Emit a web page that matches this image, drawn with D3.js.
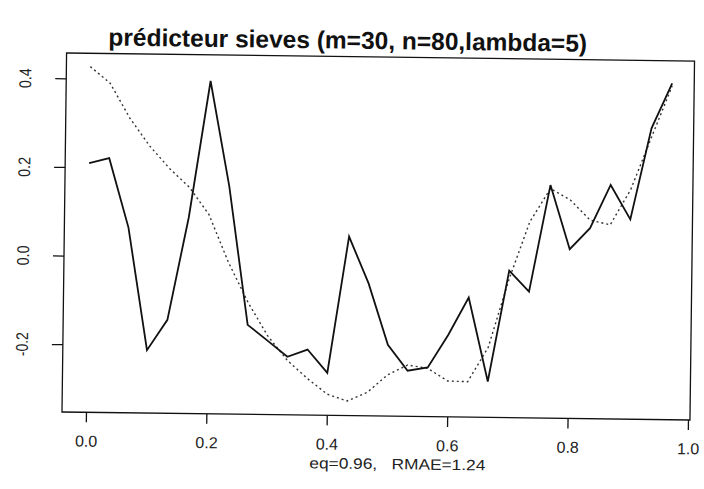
<!DOCTYPE html>
<html>
<head>
<meta charset="utf-8">
<script src="https://cdn.jsdelivr.net/npm/d3@7"></script>
<style>
  body { margin: 0; background: #fff; }
  svg { display: block; }
</style>
</head>
<body>
<script>
// grid of m=30 points on [0,1)
const xGrid = [0, 0.0333, 0.0667, 0.1, 0.1333, 0.1667, 0.2, 0.2333, 0.2667, 0.3,
               0.3333, 0.3667, 0.4, 0.4333, 0.4667, 0.5, 0.5333, 0.5667, 0.6, 0.6333,
               0.6667, 0.7, 0.7333, 0.7667, 0.8, 0.8333, 0.8667, 0.9, 0.9333, 0.9667];

// observed series (solid)
const observed = [0.209, 0.221, 0.065, -0.211, -0.142, 0.09, 0.398, 0.161, -0.151, -0.186,
                  -0.222, -0.205, -0.257, 0.051, -0.054, -0.192, -0.250, -0.242, -0.168, -0.083,
                  -0.272, -0.021, -0.068, 0.173, 0.029, 0.077, 0.175, 0.098, 0.304, 0.406];

// sieves predictor (dotted)
const predicted = [0.427, 0.39, 0.312, 0.25, 0.20, 0.158, 0.097, -0.01, -0.10, -0.175,
                   -0.23, -0.27, -0.305, -0.32, -0.30, -0.26, -0.237, -0.244, -0.272, -0.273,
                   -0.195, -0.04, 0.09, 0.165, 0.14, 0.095, 0.085, 0.165, 0.283, 0.40];

const xTicks = [0, 0.2, 0.4, 0.6, 0.8, 1.0];
const yTicks = [-0.2, 0, 0.2, 0.4];

const title = "prédicteur sieves (m=30, n=80,lambda=5)";
const subtitle = "eq=0.96,   RMAE=1.24";

const width = 704, height = 489;
const boxLeft = 62, boxRight = 690, boxTop = 53, boxBottom = 412;

const svg = d3.select("body")
              .append("svg")
              .attr("width", width)
              .attr("height", height);

svg.append("rect")
   .attr("width", width)
   .attr("height", height)
   .attr("fill", "#fff");

// the scanned page is tilted a little
const g = svg.append("g")
             .attr("transform", `rotate(0.73, ${boxLeft}, ${boxBottom})`);

const xScale = d3.scaleLinear()
                 .domain([-0.0398, 1.0033])
                 .range([boxLeft, boxRight]);

const yScale = d3.scaleLinear()
                 .domain([-0.353, 0.457])
                 .range([boxBottom, boxTop]);

// box
g.append("rect")
 .attr("x", boxLeft)
 .attr("y", boxTop)
 .attr("width", boxRight - boxLeft)
 .attr("height", boxBottom - boxTop)
 .attr("fill", "none")
 .attr("stroke", "#111")
 .attr("stroke-width", 1.3);

// x axis
const xAxis = g.append("g")
  .attr("transform", `translate(0, ${boxBottom})`)
  .call(d3.axisBottom(xScale)
          .tickValues(xTicks)
          .tickSize(10)
          .tickPadding(13)
          .tickFormat(d3.format(".1f")));

xAxis.select(".domain").remove();
xAxis.selectAll("line").attr("stroke", "#111").attr("stroke-width", 1.3);
xAxis.selectAll("text")
     .attr("font-family", "'Liberation Sans', Arial, sans-serif")
     .attr("font-size", 16)
     .attr("fill", "#222");

// y axis
const yAxis = g.append("g")
  .attr("transform", `translate(${boxLeft}, 0)`)
  .call(d3.axisLeft(yScale)
          .tickValues(yTicks)
          .tickSize(11)
          .tickFormat(d3.format(".1f")));

yAxis.select(".domain").remove();
yAxis.selectAll("line").attr("stroke", "#111").attr("stroke-width", 1.3);
yAxis.selectAll("text")
     .attr("x", 0)
     .attr("y", 0)
     .attr("dy", null)
     .attr("text-anchor", "middle")
     .attr("transform", `translate(${27 - boxLeft}, 0) rotate(-90)`)
     .attr("font-family", "'Liberation Sans', sans-serif")
     .attr("font-size", 17)
     .attr("textLength", d => d < 0 ? 24 : 20)
     .attr("lengthAdjust", "spacingAndGlyphs")
     .attr("fill", "#222")
     .text(d => d3.format(".1f")(d).replace("−", "-"));

// lines
const line = d3.line()
               .x((d, i) => xScale(xGrid[i]))
               .y(d => yScale(d));

g.append("path")
 .datum(predicted)
 .attr("d", line)
 .attr("fill", "none")
 .attr("stroke", "#333")
 .attr("stroke-width", 1.4)
 .attr("stroke-dasharray", "2,3");

g.append("path")
 .datum(observed)
 .attr("d", line)
 .attr("fill", "none")
 .attr("stroke", "#111")
 .attr("stroke-width", 1.8)
 .attr("stroke-linejoin", "miter");

// title and subtitle
g.append("text")
 .attr("x", 343)
 .attr("y", 45)
 .attr("text-anchor", "middle")
 .attr("font-family", "'Liberation Sans', Arial, sans-serif")
 .attr("font-weight", "bold")
 .attr("font-size", 24.5)
 .attr("fill", "#111")
 .text(title);

g.append("text")
 .attr("x", 398)
 .attr("y", 465)
 .attr("text-anchor", "middle")
 .attr("font-family", "'Liberation Sans', Arial, sans-serif")
 .attr("font-size", 15)
 .attr("textLength", 176)
 .attr("lengthAdjust", "spacingAndGlyphs")
 .attr("fill", "#222")
 .style("white-space", "pre")
 .text(subtitle);
</script>
</body>
</html>
